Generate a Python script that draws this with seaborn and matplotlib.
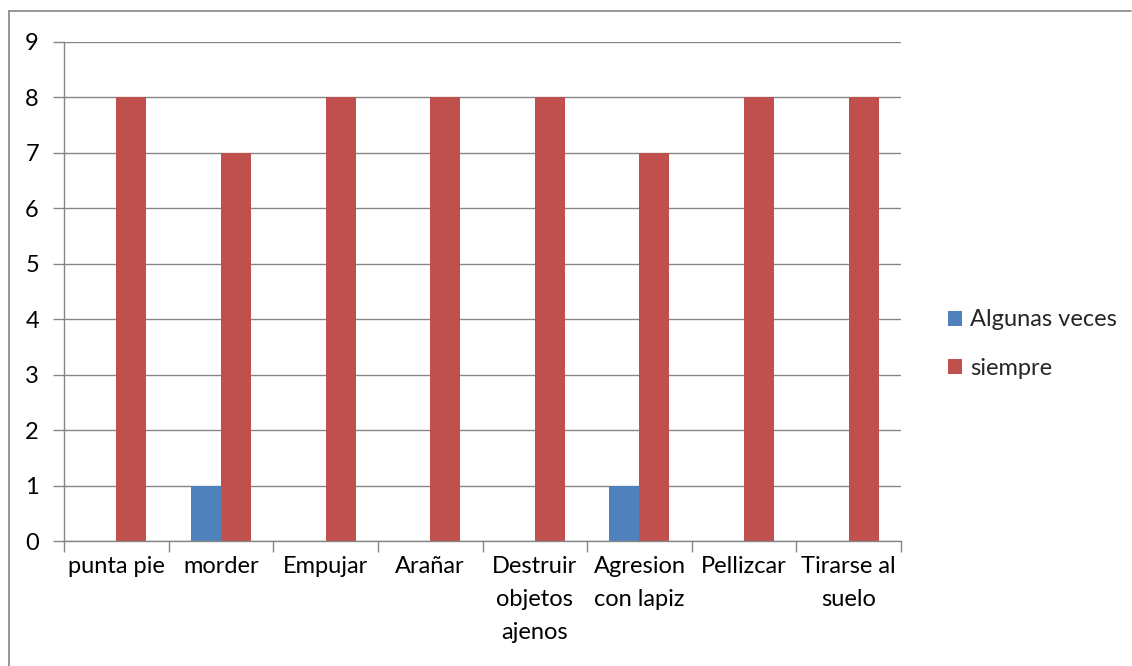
import numpy as np
import pandas as pd
import matplotlib
matplotlib.use("Agg")
import matplotlib.pyplot as plt
import seaborn as sns
from matplotlib.lines import Line2D
from matplotlib.patches import Patch

# datos
categorias = ["punta pie", "morder", "Empujar", "Arañar", "Destruir\nobjetos\najenos",
              "Agresion\ncon lapiz", "Pellizcar", "Tirarse al\nsuelo"]
series = ["Algunas veces", "siempre"]
algunas_veces = [0, 1, 0, 0, 0, 1, 0, 0]
siempre = [8, 7, 8, 8, 8, 7, 8, 8]
colores = ["#4F81BD", "#C0504D"]
gris = "#868686"

df = pd.DataFrame({
	"categoria": categorias * 2,
	"serie": [series[0]] * len(categorias) + [series[1]] * len(categorias),
	"valor": algunas_veces + siempre,
})

sns.set_theme(style="white")
plt.rcParams["font.family"] = ["Lato", "DejaVu Sans"]
plt.rcParams["xtick.bottom"] = True
plt.rcParams["ytick.left"] = True

W, H = 1132, 666
fs = 17
fig = plt.figure(figsize=(W / 100, H / 100), dpi=100)
ax = fig.add_axes([64 / W, 1 - 541 / H, (901 - 64) / W, (541 - 42) / H])

sns.barplot(data=df, x="categoria", y="valor", hue="serie", order=categorias,
			hue_order=series, palette=colores, width=0.574, gap=0, saturation=1,
			ax=ax, legend=False, edgecolor="none", linewidth=0)

ax.set_xlim(-0.5, len(categorias) - 0.5)
ax.set_ylim(0, 9)
ax.set_yticks(range(0, 10))
ax.grid(axis="y", color=gris, linewidth=1)
ax.set_axisbelow(True)
ax.set_xlabel("")
ax.set_ylabel("")
for s in ["top", "right"]:
	ax.spines[s].set_visible(False)
for s in ["left", "bottom"]:
	ax.spines[s].set_color(gris)
	ax.spines[s].set_linewidth(1)

ax.set_xticks(range(len(categorias)))
ax.set_xticklabels(categorias, fontsize=fs, linespacing=1.7, va="top")
ax.set_xticks(np.arange(-0.5, len(categorias), 1), minor=True)
ax.tick_params(axis="x", which="major", length=0, pad=11, colors="black")
ax.tick_params(axis="x", which="minor", bottom=True, length=8, color=gris, width=1)
ax.tick_params(axis="y", which="major", left=True, length=8, color=gris, width=1,
			   labelsize=fs, pad=10, labelcolor="black")

handles = [Patch(facecolor=c, edgecolor="none") for c in colores]
fig.legend(handles, series, loc="center left", bbox_to_anchor=(936 / W, 1 - 344 / H),
		   frameon=False, fontsize=fs, handlelength=0.6, handleheight=0.6,
		   handletextpad=0.35, labelspacing=1.15, borderpad=0)

# borde exterior del área del gráfico
fig.add_artist(Line2D([9 / W, 1131 / W], [1 - 11 / H, 1 - 11 / H], color=gris, lw=1.2))
fig.add_artist(Line2D([9 / W, 9 / W], [1 - 11 / H, 0], color=gris, lw=1.2))

fig.savefig("out.png", dpi=100)
